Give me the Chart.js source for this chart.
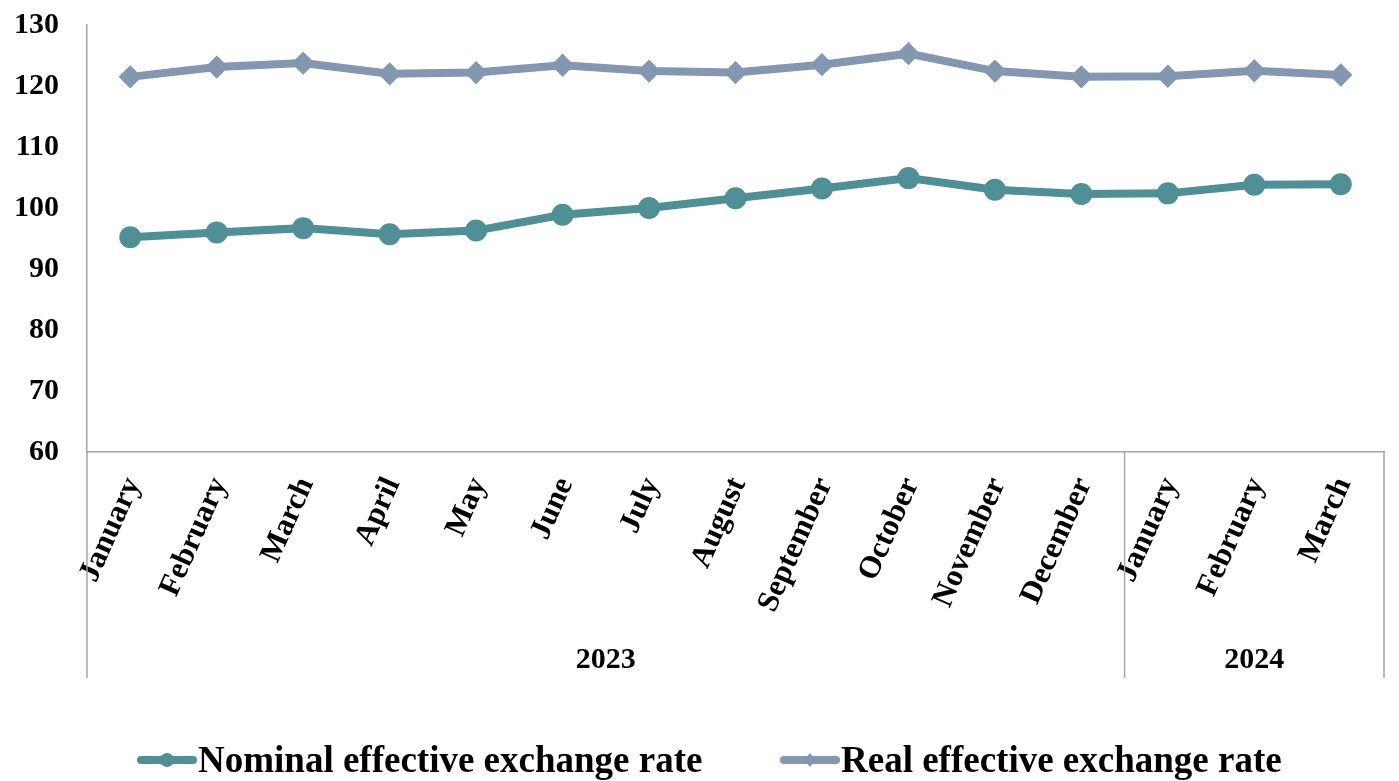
<!DOCTYPE html>
<html>
<head>
<meta charset="utf-8">
<script src="https://cdn.jsdelivr.net/npm/chart.js@4.4.0/dist/chart.umd.min.js"></script>
<style>
  html, body { margin: 0; padding: 0; background: #fff; }
  #wrap { width: 1399px; height: 781px; position: relative; }
</style>
</head>
<body>
<div id="wrap"><canvas id="chart"></canvas></div>
<script>
// data
const months = ["January", "February", "March", "April", "May", "June", "July", "August",
  "September", "October", "November", "December", "January", "February", "March"];
const years = ["2023", "2024"];
const yearSpans = [12, 3]; // months per year group
const nominal = [95.2, 96.0, 96.7, 95.7, 96.3, 98.9, 100.0, 101.6, 103.2, 104.9, 103.0, 102.3, 102.4, 103.8, 103.9];
const real = [121.5, 123.1, 123.75, 122.0, 122.2, 123.4, 122.45, 122.2, 123.5, 125.3, 122.45, 121.5, 121.6, 122.5, 121.8];

const axisColor = "#a6a6a6";
const font = "'Liberation Serif', 'Times New Roman', serif";

// year groups under the month labels + separators
const yearGroups = {
  id: "yearGroups",
  afterDraw(chart) {
    const { ctx, scales: { x } } = chart;
    const top = x.top;
    const bottom = x.bottom;
    const half = (x.getPixelForValue(1) - x.getPixelForValue(0)) / 2;
    ctx.save();
    ctx.strokeStyle = axisColor;
    ctx.lineWidth = 1.5;
    let idx = 0;
    const edges = [x.left];
    yearSpans.forEach((n, i) => {
      const start = x.getPixelForValue(idx) - half;
      const end = x.getPixelForValue(idx + n - 1) + half;
      edges.push(end);
      ctx.fillStyle = "#000";
      ctx.font = "bold 30px " + font;
      ctx.textAlign = "center";
      ctx.textBaseline = "middle";
      ctx.fillText(years[i], (start + end) / 2, bottom - 18);
      idx += n;
    });
    edges.forEach(px => {
      ctx.beginPath();
      ctx.moveTo(px, top);
      ctx.lineTo(px, bottom);
      ctx.stroke();
    });
    ctx.restore();
  }
};

// legend drawn as line + marker like the original
const bottomLegend = {
  id: "bottomLegend",
  afterDraw(chart) {
    const { ctx } = chart;
    const y = 760;
    const items = [
      { ds: chart.data.datasets[0], x: 138 },
      { ds: chart.data.datasets[1], x: 781 }
    ];
    ctx.save();
    items.forEach(it => {
      ctx.strokeStyle = it.ds.borderColor;
      ctx.fillStyle = it.ds.borderColor;
      ctx.lineWidth = 8;
      ctx.lineCap = "round";
      ctx.beginPath();
      ctx.moveTo(it.x + 3, y);
      ctx.lineTo(it.x + 55, y);
      ctx.stroke();
      const cx = it.x + 29;
      if (it.ds.pointStyle === "circle") {
        ctx.beginPath();
        ctx.arc(cx, y, 7, 0, Math.PI * 2);
        ctx.fill();
      } else {
        ctx.beginPath();
        ctx.moveTo(cx, y - 7);
        ctx.lineTo(cx + 6, y);
        ctx.lineTo(cx, y + 7);
        ctx.lineTo(cx - 6, y);
        ctx.closePath();
        ctx.fill();
      }
      ctx.fillStyle = "#000";
      ctx.font = "bold 37px " + font;
      ctx.textAlign = "left";
      ctx.textBaseline = "middle";
      ctx.fillText(it.ds.label, it.x + 60, y + 2);
    });
    ctx.restore();
  }
};

new Chart(document.getElementById("chart"), {
  type: "line",
  data: {
    labels: months,
    datasets: [{
      label: "Nominal effective exchange rate",
      data: nominal,
      borderColor: "#4f8f95",
      backgroundColor: "#4f8f95",
      borderWidth: 8,
      pointStyle: "circle",
      pointRadius: 7,
      pointHoverRadius: 7,
      tension: 0
    }, {
      label: "Real effective exchange rate",
      data: real,
      borderColor: "#8397b1",
      backgroundColor: "#8397b1",
      borderWidth: 8,
      pointStyle: "rectRot",
      pointRadius: 6,
      pointHoverRadius: 6,
      tension: 0
    }]
  },
  options: {
    responsive: true,
    maintainAspectRatio: false,
    animation: false,
    layout: { padding: { top: 25, right: 5, bottom: 103, left: 0 } },
    plugins: {
      legend: { display: false },
      tooltip: { enabled: false }
    },
    scales: {
      x: {
        offset: true,
        grid: { display: false, drawTicks: false },
        border: { color: axisColor, width: 1.5 },
        ticks: {
          color: "#000",
          font: { family: font, size: 31, weight: "bold" },
          minRotation: 66,
          maxRotation: 66,
          autoSkip: false,
          padding: 20,
          labelOffset: 3
        },
        afterFit(scale) { scale.height = 226; scale.paddingTop = 0; }
      },
      y: {
        min: 60,
        max: 130,
        grid: { display: false, drawTicks: false },
        border: { color: axisColor, width: 1.5 },
        ticks: {
          stepSize: 10,
          color: "#000",
          font: { family: font, size: 30, weight: "bold" },
          padding: 28
        },
        afterFit(scale) { scale.width = 87; scale.paddingTop = 0; scale.paddingBottom = 0; }
      }
    }
  },
  plugins: [yearGroups, bottomLegend]
});
</script>
</body>
</html>
